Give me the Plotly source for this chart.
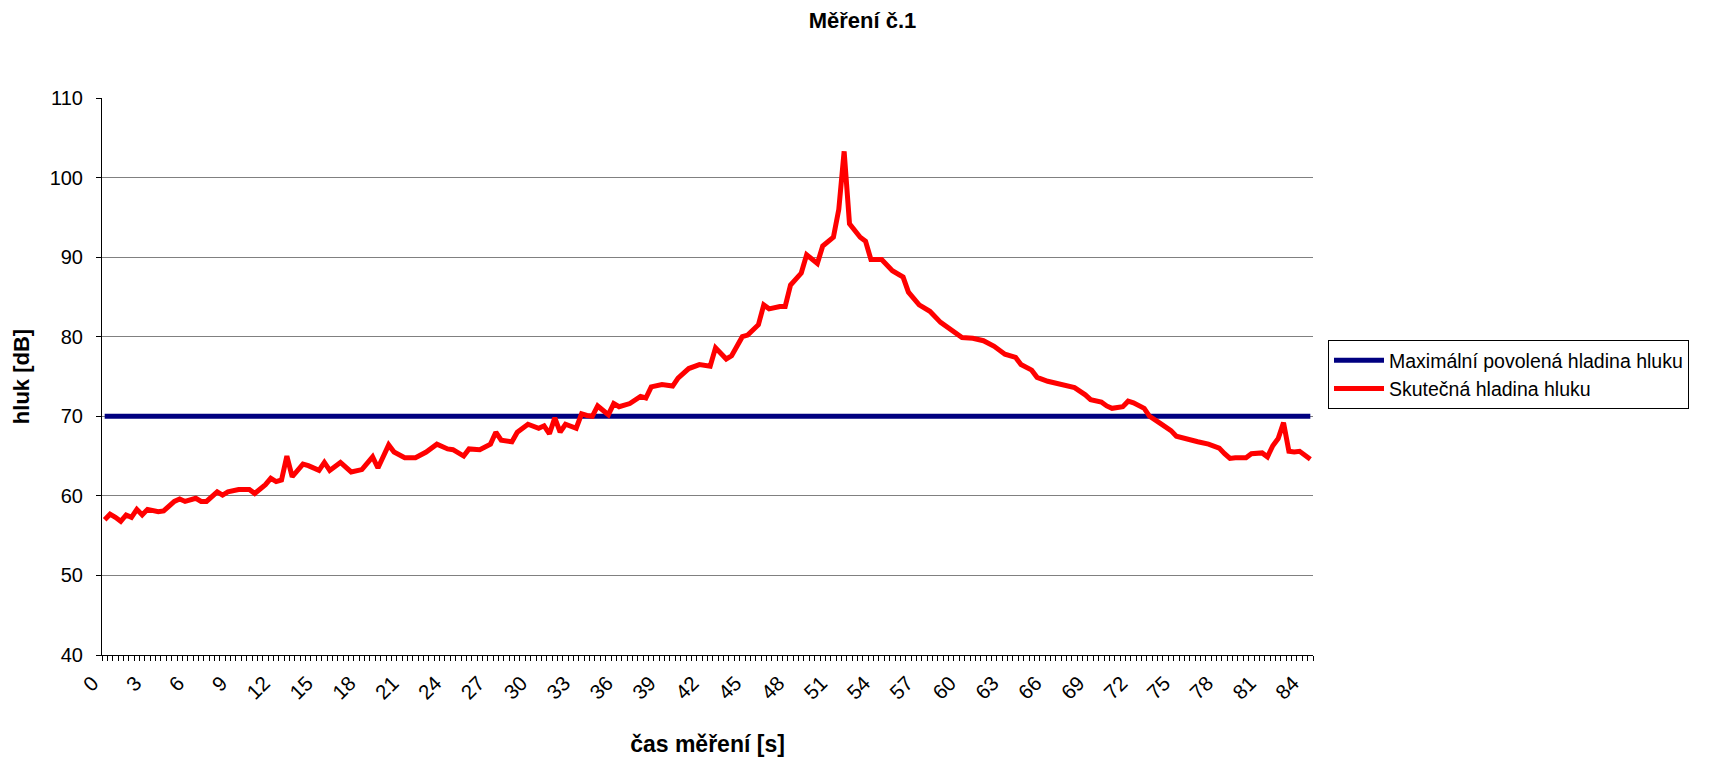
import plotly.graph_objects as go

# ---- data ----
KROK = 0.375            # seconds per category on the category axis
POCET_KATEGORII = 226   # number of categories (measurements)

vzorek = [0, 1, 2, 3, 4, 5, 6, 7, 8, 10, 11, 12, 13, 14, 15, 17, 18, 19, 21, 22,
          23, 25, 27, 28, 30, 31, 32, 33, 34, 35, 37, 38, 40, 41, 42, 44, 46, 48, 50, 51,
          53, 54, 56, 58, 60, 62, 64, 65, 67, 68, 70, 72, 73, 74, 76, 77, 79, 81, 82, 83,
          84, 85, 86, 88, 89, 90, 91, 92, 93, 94, 95, 96, 98, 100, 101, 102, 104, 106, 107, 109,
          111, 113, 114, 116, 117, 119, 120, 122, 123, 124, 126, 127, 128, 130, 131, 133, 134, 136, 137, 138,
          139, 141, 142, 143, 145, 147, 149, 150, 152, 154, 156, 159, 160, 162, 164, 166, 168, 170, 171, 173,
          174, 176, 178, 181, 183, 184, 186, 187, 188, 190, 191, 192, 194, 195, 197, 199, 200, 202, 204, 206,
          208, 209, 210, 211, 213, 214, 216, 217, 218, 219, 220, 221, 222, 223, 225]

skutecna_hladina = [57.0, 57.7, 57.3, 56.8, 57.6, 57.3, 58.3, 57.6, 58.3, 58.0,
                    58.1, 58.7, 59.3, 59.6, 59.3, 59.7, 59.3, 59.3, 60.5, 60.1,
                    60.5, 60.8, 60.8, 60.3, 61.4, 62.2, 61.8, 62.0, 65.0, 62.4,
                    64.0, 63.8, 63.2, 64.2, 63.2, 64.2, 63.0, 63.3, 64.9, 63.5,
                    66.4, 65.5, 64.8, 64.8, 65.5, 66.5, 65.9, 65.8, 65.0, 65.9,
                    65.8, 66.5, 68.0, 67.0, 66.8, 68.0, 69.0, 68.5, 68.8, 67.8,
                    69.8, 68.0, 69.0, 68.5, 70.3, 70.1, 70.0, 71.3, 70.7, 70.2,
                    71.6, 71.2, 71.6, 72.5, 72.3, 73.7, 74.0, 73.8, 74.8, 76.0,
                    76.5, 76.3, 78.6, 77.2, 77.6, 80.0, 80.2, 81.5, 84.0, 83.5,
                    83.8, 83.8, 86.5, 88.0, 90.3, 89.2, 91.4, 92.5, 96.0, 103.3,
                    94.2, 92.5, 92.0, 89.7, 89.7, 88.3, 87.5, 85.6, 84.0, 83.2,
                    81.8, 80.5, 79.9, 79.8, 79.5, 78.8, 77.8, 77.4, 76.5, 75.8,
                    74.9, 74.4, 74.1, 73.6, 72.7, 72.1, 71.8, 71.3, 71.0, 71.2,
                    71.9, 71.7, 71.0, 70.0, 69.1, 68.2, 67.5, 67.1, 66.8, 66.5,
                    66.0, 65.3, 64.7, 64.8, 64.8, 65.3, 65.4, 64.9, 66.3, 67.2,
                    69.2, 65.6, 65.5, 65.6, 64.6]

povolena_hladina = 70

x_popisky = list(range(0, 85, 3))
y_popisky = [40, 50, 60, 70, 80, 90, 100, 110]

nazev = "Měření č.1"
nazev_x = "čas měření [s]"
nazev_y = "hluk [dB]"
serie_max = "Maximální povolená hladina hluku"
serie_skut = "Skutečná hladina hluku"

# ---- figure ----
cas = [v * KROK for v in vzorek]
kategorie = [i * KROK for i in range(POCET_KATEGORII)]

FONT = "Liberation Sans, Arial, sans-serif"

fig = go.Figure()
fig.add_trace(go.Scatter(
    x=kategorie, y=[povolena_hladina] * len(kategorie), mode="lines",
    name=serie_max, line=dict(color="#000080", width=5)))
fig.add_trace(go.Scatter(
    x=cas, y=skutecna_hladina, mode="lines",
    name=serie_skut, line=dict(color="#FF0000", width=5)))

fig.update_layout(
    width=1725, height=757,
    margin=dict(l=102, r=412, t=98, b=102),
    paper_bgcolor="white", plot_bgcolor="white",
    font=dict(family=FONT, size=20, color="black"),
    title=dict(text=nazev, x=0.5, xref="container", xanchor="center",
               y=1 - 20 / 757, yref="container", yanchor="middle",
               font=dict(family=FONT, size=22, color="black", weight="bold")),
    showlegend=True,
    legend=dict(x=(1328 - 102) / 1211, xanchor="left", xref="paper",
                y=(655 - 340) / 557, yanchor="top", yref="paper",
                bordercolor="black", borderwidth=1, bgcolor="white",
                font=dict(family=FONT, size=19.5, color="black"),
                itemwidth=50, tracegroupgap=0),
)

fig.update_xaxes(
    range=[-KROK / 2, (POCET_KATEGORII - 0.5) * KROK],
    tickmode="array", tickvals=x_popisky, ticktext=[str(v) for v in x_popisky],
    ticks="", tickangle=-45, ticklabelshift=-12, ticklabelstandoff=7,
    tickfont=dict(family=FONT, size=20.5, color="black"),
    minor=dict(ticks="outside", ticklen=5, tickcolor="black", tickwidth=1,
               tick0=-KROK / 2, dtick=KROK, showgrid=False),
    showline=True, linecolor="black", linewidth=1,
    showgrid=False, zeroline=False,
    title=dict(text=nazev_x, standoff=34,
               font=dict(family=FONT, size=23, color="black", weight="bold")),
    automargin=False,
)
fig.update_yaxes(
    range=[40, 110], tickmode="array", tickvals=y_popisky,
    ticks="outside", ticklen=5, tickcolor="black", ticklabelstandoff=9,
    tickfont=dict(family=FONT, size=20, color="black"),
    showline=True, linecolor="black", linewidth=1,
    showgrid=True, gridcolor="#808080", gridwidth=1, zeroline=False,
    title=dict(text=nazev_y, standoff=13,
               font=dict(family=FONT, size=22, color="black", weight="bold")),
    automargin=False,
)

fig.write_html("out.html")
